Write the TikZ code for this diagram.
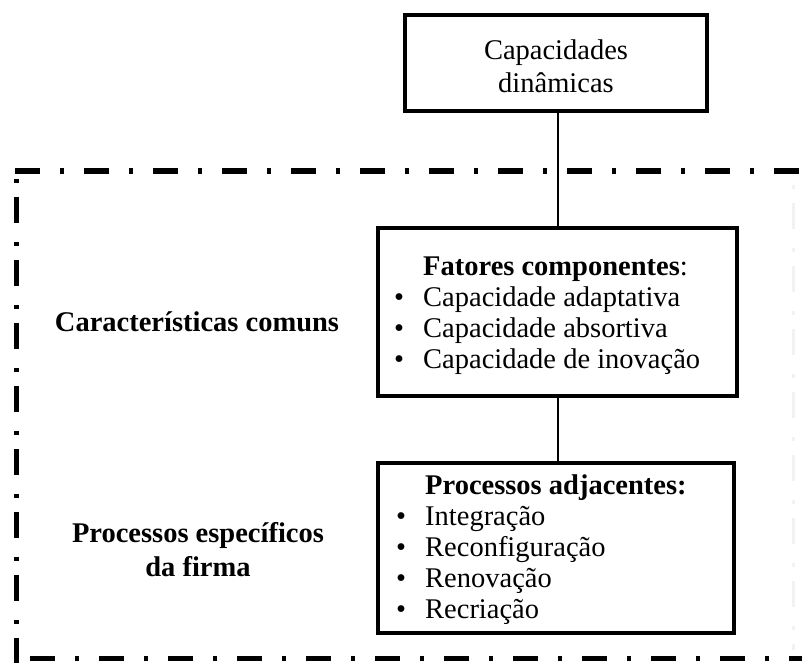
\documentclass[tikz,border=0pt]{standalone}
\usepackage{fontspec}
\setmainfont{Liberation Serif}
\begin{document}
\begin{tikzpicture}[x=1pt,y=-1pt,
  box/.style={draw=black, line width=4pt, rectangle, inner sep=0pt},
  link/.style={draw=black, line width=1.6pt},
  frame/.style={line width=5pt, dash pattern=on 25pt off 20pt on 4pt off 20pt},
  vframe/.style={line width=5pt, dash pattern=on 4pt off 14pt on 26pt off 19pt},
  txt/.style={font=\fontsize{28.5}{31}\selectfont, inner sep=0pt},
  lbl/.style={font=\fontsize{28.5}{34}\selectfont\bfseries, inner sep=0pt, align=center}
]
\useasboundingbox (0,0) rectangle (802,663);
\def\bul{\llap{•\hspace{19pt}}}

% dash-dot frame
\draw[frame] (15,171) -- (802,171);
\draw[vframe] (16,179) -- (16,663);
\draw[frame] (30,658) -- (802,658);
\draw[vframe, draw=black!5, line width=3pt] (793,185) -- (793,650);

% boxes
\node[box, minimum width=302pt, minimum height=96pt] (cap) at (556,63) {};
\node[box, minimum width=359pt, minimum height=168pt] (fat) at (557.5,312) {};
\node[box, minimum width=356pt, minimum height=170pt] (proc) at (556,548) {};

% connectors
\draw[link] (cap.south -| 558,0) -- (fat.north -| 558,0);
\draw[link] (fat.south -| 558,0) -- (proc.north -| 558,0);

% box texts
\node[txt, align=center, font=\fontsize{28.5}{33}\selectfont] (captxt) at (556,66) {Capacidades\\dinâmicas};
\node[txt, align=left, anchor=west] (fattxt) at (423,316)
  {\textbf{Fatores componentes}:\\
   \bul Capacidade adaptativa\\
   \bul Capacidade absortiva\\
   \bul Capacidade de inovação};
\node[txt, align=left, anchor=west] (proctxt) at (425,550)
  {\textbf{Processos adjacentes:}\\
   \bul Integração\\
   \bul Reconfiguração\\
   \bul Renovação\\
   \bul Recriação};

% side labels
\node[lbl] (comuns) at (197,322) {Características comuns};
\node[lbl] (firma) at (198,550) {Processos específicos\\da firma};
\end{tikzpicture}
\end{document}
